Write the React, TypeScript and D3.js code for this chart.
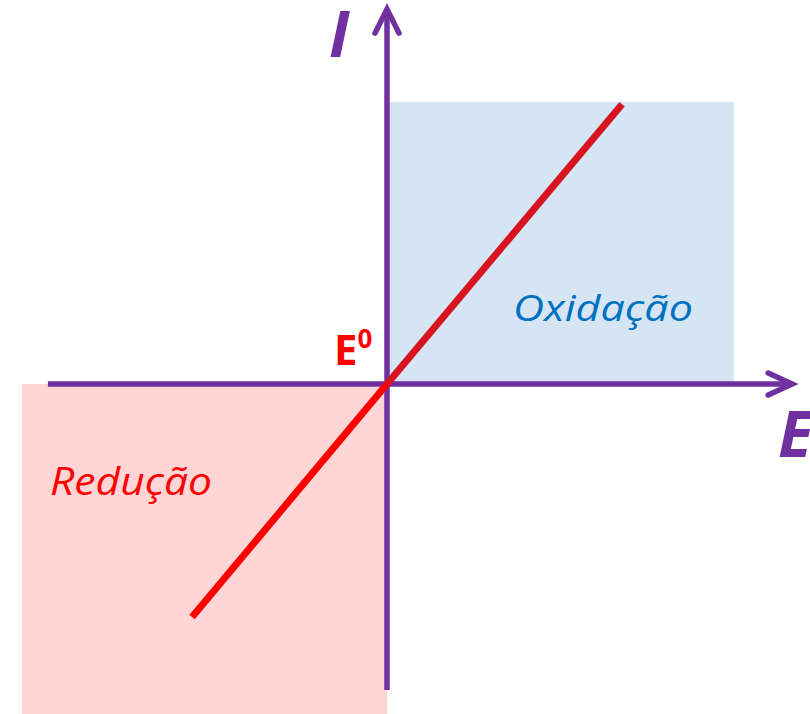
import React from "react";
import * as d3 from "d3";

// Data (E = potential, I = current), in normalized units
const lineE = [-0.534, 0, 0.644];
const lineI = [-0.706, 0, 0.848];
const reductionBox = { e0: -1, e1: 0, i0: -1, i1: 0 };
const oxidationBox = { e0: 0, e1: 0.95, i0: 0, i1: 0.855 };
const axisE = [-0.929, 1.11];
const axisI = [-0.927, 1.136];
const labels = { x: "E", y: "I", origin: "E", originSup: "0", ox: "Oxidação", red: "Redução" };

const W = 810;
const H = 714;

export default function App() {
  const x = d3.scaleLinear().domain([-1, 1]).range([387 - 365, 387 + 365]);
  const y = d3.scaleLinear().domain([-1, 1]).range([384 + 330, 384 - 330]);
  const purple = "#7030a0";

  const lower = d3.line<number>().x((d) => x(lineE[d])).y((d) => y(lineI[d]))([0, 1]) as string;
  const upper = d3.line<number>().x((d) => x(lineE[d])).y((d) => y(lineI[d]))([1, 2]) as string;

  const x0 = x(0);
  const y0 = y(0);
  const xEnd = x(axisE[1]);
  const yEnd = y(axisI[1]);

  return (
    <svg
      width={W}
      height={H}
      style={{ position: "absolute", left: 0, top: 0, background: "#fff" }}
      fontFamily="'Open Sans', sans-serif"
    >
      <rect
        x={x(reductionBox.e0)}
        y={y(reductionBox.i1)}
        width={x(reductionBox.e1) - x(reductionBox.e0)}
        height={y(reductionBox.i0) - y(reductionBox.i1)}
        fill="#ffd5d6"
      />
      <rect
        x={x(oxidationBox.e0)}
        y={y(oxidationBox.i1)}
        width={x(oxidationBox.e1) - x(oxidationBox.e0)}
        height={y(oxidationBox.i0) - y(oxidationBox.i1)}
        fill="#d5e5f4"
      />
      {/* axes */}
      <line x1={x(axisE[0])} x2={xEnd} y1={y0} y2={y0} stroke={purple} strokeWidth={5.5} />
      <line x1={x0} x2={x0} y1={y(axisI[0])} y2={yEnd} stroke={purple} strokeWidth={5.5} />
      <polyline
        points={`${xEnd - 24},${y0 - 11} ${xEnd},${y0} ${xEnd - 24},${y0 + 11}`}
        fill="none"
        stroke={purple}
        strokeWidth={5.5}
        strokeLinecap="round"
        strokeLinejoin="miter"
      />
      <polyline
        points={`${x0 - 12},${yEnd + 24} ${x0},${yEnd} ${x0 + 12},${yEnd + 24}`}
        fill="none"
        stroke={purple}
        strokeWidth={5.5}
        strokeLinecap="round"
        strokeLinejoin="miter"
      />
      {/* line */}
      <path d={lower} stroke="#ff0000" strokeWidth={7} fill="none" />
      <path d={upper} stroke="#d7141f" strokeWidth={7} fill="none" />
      {/* labels */}
      <text x={329} y={57} fontSize={64} fontWeight="bold" fontStyle="italic" fill={purple}>
        {labels.y}
      </text>
      <text x={778} y={457} fontSize={64} fontWeight="bold" fontStyle="italic" fill={purple}>
        {labels.x}
      </text>
      <text x={334} y={365} fontSize={42} fontWeight="bold" fill="#ff0000">
        {labels.origin}
        <tspan dy={-17} fontSize={26}>
          {labels.originSup}
        </tspan>
      </text>
      <text x={513} y={321} fontSize={36} fontStyle="italic" fill="#0070c0" textLength={180} lengthAdjust="spacingAndGlyphs">
        {labels.ox}
      </text>
      <text x={50} y={495} fontSize={38} fontStyle="italic" fill="#ff0000" textLength={162} lengthAdjust="spacingAndGlyphs">
        {labels.red}
      </text>
    </svg>
  );
}
